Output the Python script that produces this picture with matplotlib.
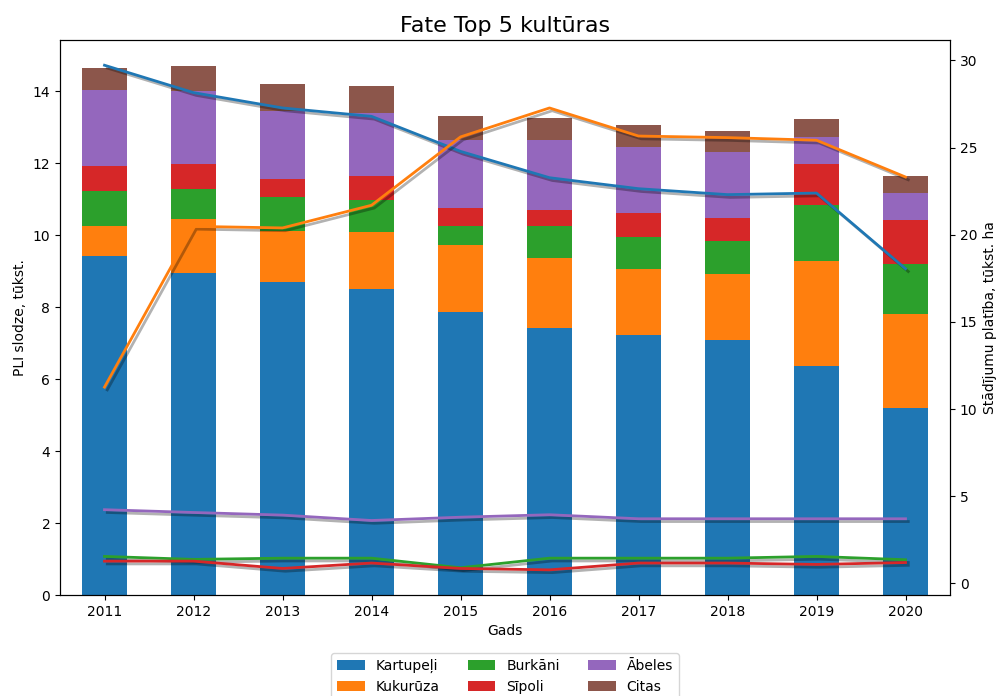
import numpy as np
import matplotlib
matplotlib.use('Agg')
import matplotlib.pyplot as plt
import matplotlib.patheffects as pe

# Years:
years = ['2011', '2012', '2013', '2014', '2015', '2016', '2017', '2018', '2019', '2020']

# PLI slodze per culture (stacked bars, left axis):
kartupeli = [9.43, 8.96, 8.69, 8.51, 7.87, 7.41, 7.22, 7.08, 6.37, 5.20]
kukuruza  = [0.82, 1.48, 1.44, 1.57, 1.85, 1.96, 1.84, 1.85, 2.92, 2.60]
burkani   = [0.97, 0.84, 0.93, 0.89, 0.55, 0.90, 0.90, 0.90, 1.55, 1.39]
sipoli    = [0.70, 0.71, 0.49, 0.67, 0.49, 0.43, 0.66, 0.66, 1.14, 1.23]
abeles    = [2.11, 2.01, 1.90, 1.77, 1.88, 1.94, 1.82, 1.82, 0.75, 0.75]
citas     = [0.63, 0.69, 0.74, 0.73, 0.67, 0.61, 0.61, 0.59, 0.50, 0.47]

# Stādījumu platība (lines, right axis):
area_kartupeli = [29.72, 28.15, 27.27, 26.79, 24.78, 23.27, 22.64, 22.30, 22.39, 18.05]
area_kukuruza  = [11.26, 20.48, 20.39, 21.69, 25.61, 27.27, 25.66, 25.57, 25.42, 23.31]
area_burkani   = [1.55, 1.38, 1.45, 1.45, 0.90, 1.45, 1.45, 1.45, 1.55, 1.36]
area_sipoli    = [1.28, 1.28, 0.86, 1.17, 0.86, 0.78, 1.17, 1.17, 1.09, 1.20]
area_abeles    = [4.23, 4.07, 3.92, 3.61, 3.80, 3.94, 3.71, 3.71, 3.71, 3.71]

names = ['Kartupeļi', 'Kukurūza', 'Burkāni', 'Sīpoli', 'Ābeles', 'Citas']
colors = ['tab:blue', 'tab:orange', 'tab:green', 'tab:red', 'tab:purple', 'tab:brown']

fig = plt.figure(figsize=(10, 6.96), dpi=100)
ax = fig.add_axes([0.06, 0.145, 0.89, 0.7975])

x = np.arange(len(years))
bottom = np.zeros(len(years))
for vals, name, c in zip([kartupeli, kukuruza, burkani, sipoli, abeles, citas], names, colors):
    ax.bar(x, vals, 0.5, bottom=bottom, color=c, label=name)
    bottom += np.array(vals)

ax.set_xlim(-0.5, len(years) - 0.5)
ax.set_xticks(x)
ax.set_xticklabels(years)
ax.set_xlabel('Gads')
ax.set_ylabel('PLI slodze, tūkst.')
ax.set_title('Fate Top 5 kultūras', fontsize=16)

ax2 = ax.twinx()
shadow = [pe.SimpleLineShadow(), pe.Normal()]
for vals, c in zip([area_kartupeli, area_kukuruza, area_burkani, area_sipoli, area_abeles], colors):
    ax2.plot(x, vals, color=c, lw=2, path_effects=shadow)
ax2.set_ylabel('Stādījumu platība, tūkst. ha')

# legend sits just below the x label, slightly cut at the figure edge like the original
ax.legend(loc='upper center', bbox_to_anchor=(0.5, -0.092), ncol=3)

fig.savefig('out.png')
